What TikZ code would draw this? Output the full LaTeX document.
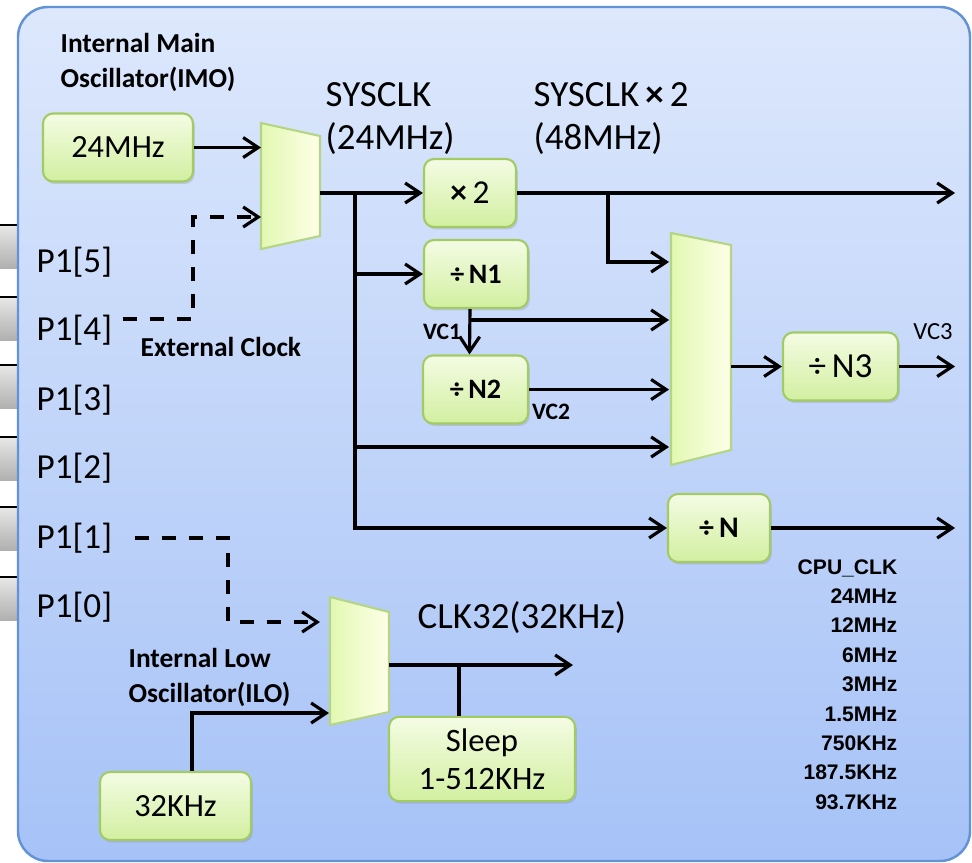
\documentclass[tikz,border=0pt]{standalone}
\usepackage{fontspec}
\setmainfont{Carlito}
\newfontfamily\arialfont{Liberation Sans}
\usetikzlibrary{arrows.meta, positioning, calc, shadows}
\definecolor{bgtop}{HTML}{DDE8FC}
\definecolor{bgbot}{HTML}{A6C2F7}
\definecolor{bgline}{HTML}{6293D6}
\definecolor{boxtop}{HTML}{F4FCE4}
\definecolor{boxbot}{HTML}{D2EFA0}
\definecolor{boxline}{HTML}{A3CB63}
\definecolor{muxleft}{HTML}{E2F8B2}
\definecolor{muxright}{HTML}{FEFFE8}
\definecolor{muxline}{HTML}{B5D585}
\definecolor{tabtop}{HTML}{E8E8E8}
\definecolor{tabbot}{HTML}{B0B0B0}

\begin{document}
\begin{tikzpicture}[
  blk/.style={rectangle, rounded corners=0.1cm, draw=boxline, line width=0.6pt, top color=boxtop, bottom color=boxbot, minimum height=0.68cm, align=center, font=\fontsize{9.2}{10.8}\selectfont, drop shadow={opacity=0.25, shadow xshift=0.5pt, shadow yshift=-0.7pt}},
  divblk/.style={blk, font=\fontsize{8}{9.6}\selectfont\bfseries},
  muxframe/.style={rectangle, inner sep=0pt, outer sep=0pt},
  muxfill/.style={draw=muxline, line width=0.6pt, left color=muxleft, right color=muxright},
  arr/.style={-{Straight Barb[length=1.5mm, width=2mm, line width=0.9pt]}, line width=0.9pt},
  dasharr/.style={arr, dash pattern=on 1.4mm off 1.3mm},
  wire/.style={line width=0.9pt},
  heading/.style={font=\fontsize{10.5}{12.2}\selectfont, align=left, anchor=west, inner sep=0pt},
  tag/.style={font=\fontsize{7.8}{10}\selectfont\bfseries, align=left, anchor=west, inner sep=0pt},
  portlbl/.style={font=\fontsize{10}{12}\selectfont, anchor=west, inner sep=0pt},
  vclbl/.style={font=\fontsize{6.7}{8}\selectfont\bfseries, inner sep=0pt},
  panel/.style={rounded corners=0.3cm, draw=bgline, line width=0.7pt, top color=bgtop, bottom color=bgbot},
]
\useasboundingbox (0,0) rectangle (9.72,-8.63);

% port tabs on the left edge
\foreach \y in {2.25,2.97,3.65,4.37,5.07,5.77} {
  \shade[top color=tabtop, bottom color=tabbot] (0,-\y) rectangle (0.19,-\y-0.43);
  \draw[line width=0.5pt] (0,-\y) -- (0.19,-\y);
}

% chip panel
\draw[panel] (0.18,-0.07) rectangle (9.70,-8.61);

% port labels
\node[portlbl] (pin5) at (0.36,-2.62) {P1[5]};
\node[portlbl] (pin4) at (0.36,-3.30) {P1[4]};
\node[portlbl] (pin3) at (0.36,-4.00) {P1[3]};
\node[portlbl] (pin2) at (0.36,-4.68) {P1[2]};
\node[portlbl] (pin1) at (0.36,-5.38) {P1[1]};
\node[portlbl] (pin0) at (0.36,-6.07) {P1[0]};

% main oscillator and system clock
\node[tag] (imolbl) at (0.60,-0.625) {Internal Main\\Oscillator(IMO)};
\node[blk, minimum width=1.50cm] (imo) at (1.18,-1.475) {24MHz};
\node[muxframe, minimum width=0.59cm, minimum height=1.26cm] (mux1) at (2.905,-1.86) {};
\path[muxfill] (mux1.north west) -- ([yshift=-0.13cm]mux1.north east) -- ([yshift=0.13cm]mux1.south east) -- (mux1.south west) -- cycle;
\node[tag] (extlbl) at (1.40,-3.47) {External Clock};
\node[heading] (syslbl) at (3.25,-1.185) {SYSCLK\\(24MHz)};
\node[heading] (sys2lbl) at (5.33,-1.185) {SYSCLK\,{\bfseries ×}\,2\\(48MHz)};

% multipliers and dividers
\node[blk, minimum width=0.92cm, font=\fontsize{9.5}{11}\selectfont] (x2) at (4.70,-1.93) {{\bfseries ×}\,2};
\node[divblk, minimum width=1.04cm] (n1) at (4.76,-2.74) {÷\,N1};
\node[divblk, minimum width=1.05cm] (n2) at (4.755,-3.895) {÷\,N2};
\node[muxframe, minimum width=0.60cm, minimum height=2.32cm] (mux2) at (7.01,-3.49) {};
\path[muxfill] (mux2.north west) -- ([yshift=-0.12cm]mux2.north east) -- ([yshift=0.15cm]mux2.south east) -- (mux2.south west) -- cycle;
\node[blk, minimum width=1.15cm, font=\fontsize{10}{12}\selectfont] (n3) at (8.405,-3.665) {÷\,N3};
\node[divblk, minimum width=1.02cm, font=\fontsize{8.5}{10}\selectfont\bfseries] (nn) at (7.19,-5.28) {÷\,N};

\node[vclbl] (vc1) at (4.42,-3.32) {VC1};
\node[vclbl] (vc2) at (5.51,-4.12) {VC2};
\node[vclbl, font=\fontsize{7}{8}\selectfont] (vc3) at (9.33,-3.32) {VC3};

\node[anchor=east, align=right, inner sep=0pt, font=\arialfont\bfseries\fontsize{6}{8.37}\selectfont] (cpuclk) at (8.98,-6.845)
  {CPU\_CLK\\24MHz\\12MHz\\6MHz\\3MHz\\1.5MHz\\750KHz\\187.5KHz\\93.7KHz};

% low oscillator
\node[tag] (ilolbl) at (1.28,-6.775) {Internal Low\\Oscillator(ILO)};
\node[blk, minimum width=1.51cm] (ilo) at (1.755,-8.06) {32KHz};
\node[muxframe, minimum width=0.59cm, minimum height=1.28cm] (mux3) at (3.595,-6.61) {};
\path[muxfill] (mux3.north west) -- ([yshift=-0.15cm]mux3.north east) -- ([yshift=0.13cm]mux3.south east) -- (mux3.south west) -- cycle;
\node[heading] (clk32lbl) at (4.17,-6.18) {CLK32(32KHz)};
\node[blk, minimum width=1.86cm, font=\fontsize{9.3}{10.8}\selectfont] (sleep) at (4.82,-7.59) {Sleep\\1-512KHz};

% junction points and outputs
\coordinate (extbend) at (1.93,-2.17);
\coordinate (ilobend) at (2.28,-6.22);
\coordinate (sysbr) at (3.55,-1.93);
\coordinate (x2br) at (6.08,-1.93);
\coordinate (vc1br) at (4.70,-3.20);
\coordinate (m2a) at (6.69,-2.62);
\coordinate (m2b) at (6.69,-3.20);
\coordinate (m2d) at (6.69,-4.47);
\coordinate (m3b) at (3.29,-7.13);
\coordinate (out48) at (9.55,-1.93);
\coordinate (outvc3) at (9.55,-3.665);
\coordinate (outcpu) at (9.55,-5.28);
\coordinate (out32) at (5.73,-6.65);
\coordinate (sleepbr) at (4.59,-6.65);

% connectors
\draw[arr] (imo) -- (mux1.west |- imo);
\draw[dasharr] ([shift={(0.1,0.11)}]pin4.east) -| (extbend) -- (mux1.west |- extbend);
\draw[arr] (mux1.east |- x2) -- (x2);
\draw[arr] (sysbr) |- (nn);
\draw[arr] (sysbr |- n1) -- (n1);
\draw[arr] (sysbr |- m2d) -- (m2d);
\draw[arr] (x2) -- (out48);
\draw[arr] (x2br) |- (m2a);
\draw[arr] ([xshift=-0.06cm]n1.south) -- ([xshift=-0.06cm]n2.north);
\draw[arr] (vc1br) -- (m2b);
\draw[arr] (n2) -- ([xshift=-0.02cm]mux2.west |- n2);
\draw[arr] (mux2.east |- n3) -- (n3);
\draw[arr] (n3) -- (outvc3);
\draw[arr] (nn) -- (outcpu);

\draw[dasharr] ([xshift=0.22cm]pin1.east) -| (ilobend) -- ([xshift=-0.1cm]mux3.west |- ilobend);
\draw[arr] ([xshift=0.165cm]ilo.north) |- (m3b);
\draw[arr] (mux3.east |- out32) -- (out32);
\draw[wire] (sleepbr) -- (sleepbr |- sleep.north);

\end{tikzpicture}
\end{document}
